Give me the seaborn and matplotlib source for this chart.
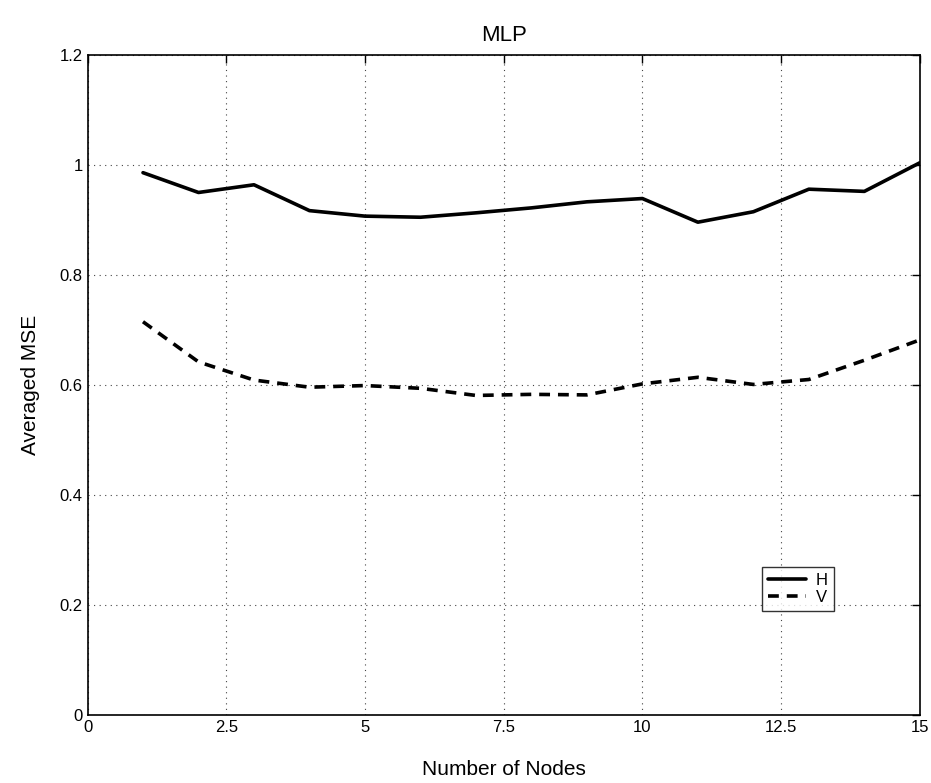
import pandas as pd
import numpy as np
import matplotlib
matplotlib.use('Agg')
import matplotlib.pyplot as plt
import seaborn as sns

# Data
nodes = [1, 2, 3, 4, 5, 6, 7, 8, 9, 10, 11, 12, 13, 14, 15]
mse_h = [0.986, 0.950, 0.964, 0.917, 0.907, 0.905, 0.913, 0.922, 0.933, 0.939,
         0.896, 0.915, 0.956, 0.952, 1.004]
mse_v = [0.715, 0.642, 0.609, 0.596, 0.599, 0.594, 0.581, 0.583, 0.582, 0.602,
         0.614, 0.601, 0.610, 0.645, 0.682]

df = pd.DataFrame({
    'Nodes': nodes * 2,
    'MSE': mse_h + mse_v,
    'Series': ['H'] * len(nodes) + ['V'] * len(nodes),
})

sns.set_style('white')
plt.rcParams['font.family'] = ['Liberation Sans', 'DejaVu Sans']
plt.rcParams['text.color'] = 'black'
plt.rcParams['axes.labelcolor'] = 'black'

fig = plt.figure(figsize=(9.31, 7.83), dpi=100)
ax = fig.add_axes([0.094, 0.0868, 0.894, 0.843])

sns.lineplot(data=df, x='Nodes', y='MSE', style='Series', color='black',
             linewidth=2.6, dashes={'H': '', 'V': (3, 2.2)}, ax=ax, legend=True)

ax.set_xlim(0, 15)
ax.set_ylim(0, 1.2)
ax.set_xticks([0, 2.5, 5, 7.5, 10, 12.5, 15])
ax.set_xticklabels(['0', '2.5', '5', '7.5', '10', '12.5', '15'])
ax.set_yticks([0, 0.2, 0.4, 0.6, 0.8, 1.0, 1.2])
ax.set_yticklabels(['0', '0.2', '0.4', '0.6', '0.8', '1', '1.2'])
ax.tick_params(direction='in', length=6, width=1, labelsize=12, colors='black',
               top=True, right=True)
ax.grid(True, linestyle=(0, (1, 4)), color='#444444', linewidth=0.8)
for s in ax.spines.values():
    s.set_color('black')
    s.set_linewidth(1.2)

ax.set_title('MLP', fontsize=16, pad=10, color='black')
ax.set_xlabel('Number of Nodes', fontsize=15, labelpad=18)
ax.set_ylabel('Averaged MSE', fontsize=15, labelpad=14)

leg = ax.legend(loc='lower left', bbox_to_anchor=(0.8, 0.145), fontsize=12,
                frameon=True, fancybox=False, edgecolor='black', handlelength=2.3,
                borderpad=0.35, labelspacing=0.15, handletextpad=0.6)
leg.get_frame().set_linewidth(1.0)
for t in leg.get_texts():
    t.set_color('black')

fig.savefig('out.png', dpi=100, facecolor='white')
